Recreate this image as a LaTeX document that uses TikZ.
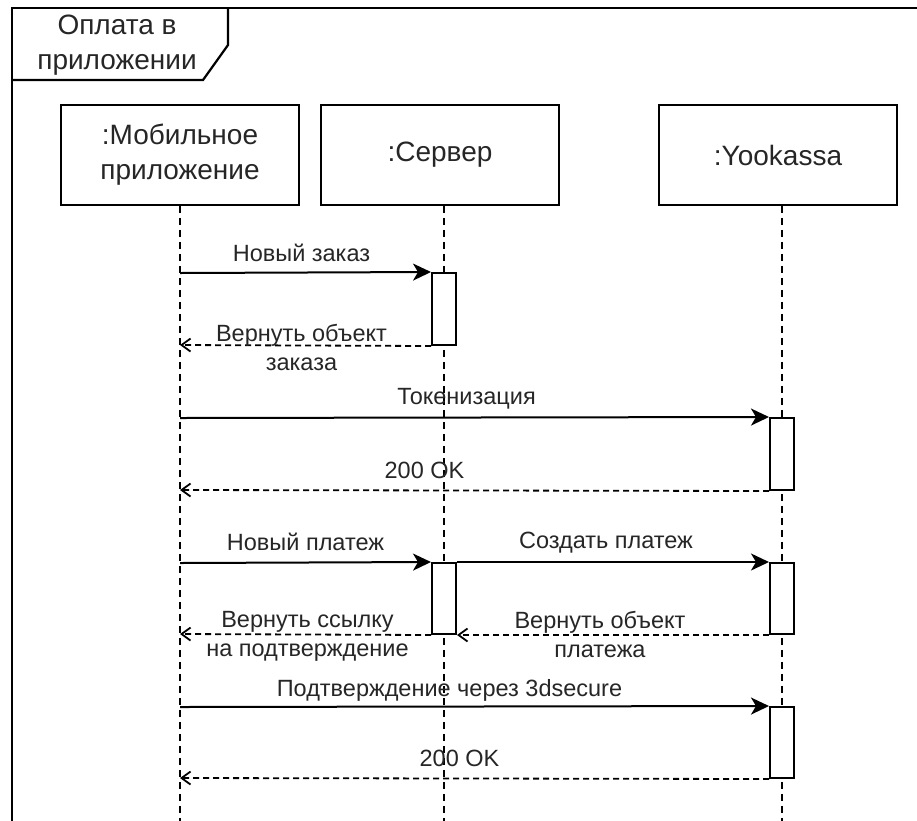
\documentclass[tikz,border=0pt]{standalone}
\usepackage{fontspec}
\setmainfont{Liberation Sans}
\usetikzlibrary{arrows.meta, positioning}

\begin{document}
\begin{tikzpicture}[
    x=1pt, y=-1pt,
    every node/.style={font=\fontsize{23.5}{29}\selectfont, text=black!85},
    lifebox/.style={rectangle, draw=black, line width=2pt, minimum width=238pt, minimum height=100pt, align=center, font=\fontsize{28}{35}\selectfont},
    actbox/.style={rectangle, draw=black, line width=2pt, fill=white, minimum width=24pt, inner sep=0pt},
    lifeline/.style={line width=1.8pt, dash pattern=on 7pt off 5pt},
    msg/.style={-{Stealth[length=18pt, width=17pt, inset=5pt]}, line width=2pt},
    reply/.style={-{Straight Barb[length=9pt, width=13pt]}, line width=1.8pt, dash pattern=on 6pt off 4pt},
    lbl/.style={align=center, inner sep=2pt}
]
\useasboundingbox (0,0) rectangle (917,820);

% --- frame ---
\draw[line width=2.5pt] (12,830) -- (12,8) -- (930,8);
\draw[line width=2.2pt] (12,80) -- (203,80) -- (228,45) -- (228,8);
\node[align=center, font=\fontsize{28}{35}\selectfont] (title) at (117,45) {Оплата в\\приложении};

% --- lifelines ---
\node[lifebox] (app)   at (180,155) {:Мобильное\\приложение};
\node[lifebox] (srv)   at (440,155) {:Сервер};
\node[lifebox] (kassa) at (778,155) {:Yookassa};

\coordinate (append)   at (180,830);
\coordinate (srvend)   at (444,830);
\coordinate (kassaend) at (782,830);
\draw[lifeline] (app.south) -- (append);
\draw[lifeline] (srv.south -| srvend) -- (srvend);
\draw[lifeline] (kassa.south -| kassaend) -- (kassaend);

% --- activations ---
\node[actbox, minimum height=72pt] (a1) at (444,309) {};
\node[actbox, minimum height=72pt] (a2) at (782,454) {};
\node[actbox, minimum height=71pt] (a3) at (444,598.5) {};
\node[actbox, minimum height=71pt] (a4) at (782,598.5) {};
\node[actbox, minimum height=71pt] (a5) at (782,742.5) {};

% --- start points on the app lifeline ---
\coordinate (m1) at (180,273);
\coordinate (r1) at (180,345);
\coordinate (m2) at (180,418);
\coordinate (r2) at (180,490);
\coordinate (m3) at (180,563);
\coordinate (r3) at (180,634);
\coordinate (m4) at (180,707);
\coordinate (r4) at (180,778);

% --- messages ---
\draw[msg]   (m1) -- node[lbl, above=8pt, xshift=-4pt] {Новый заказ} (a1.north west);
\draw[reply] (a1.south west) -- node[lbl, yshift=-2pt, xshift=-4pt] {Вернуть объект\\заказа} (r1);
\draw[msg]   (m2) -- node[lbl, above=5pt, xshift=-8pt] {Токенизация} (a2.north west);
\draw[reply] (a2.south west) -- node[lbl, above=9pt, xshift=-50pt] {200 OK} (r2);
\draw[msg]   (m3) -- node[lbl, above=9pt] {Новый платеж} (a3.north west);
\draw[msg]   (a3.north east) -- node[lbl, above=6pt, xshift=-7pt] {Создать платеж} (a4.north west);
\draw[reply] (a4.south west) -- node[lbl, xshift=-13pt, yshift=1pt] {Вернуть объект\\платежа} (a3.south east);
\draw[reply] (a3.south west) -- node[lbl, xshift=2pt, yshift=-2pt] {Вернуть ссылку\\на подтверждение} (r3);
\draw[msg]   (m4) -- node[lbl, above=2pt, xshift=-25pt] {Подтверждение через 3dsecure} (a5.north west);
\draw[reply] (a5.south west) -- node[lbl, above=9pt, xshift=-15pt] {200 OK} (r4);
\end{tikzpicture}
\end{document}
